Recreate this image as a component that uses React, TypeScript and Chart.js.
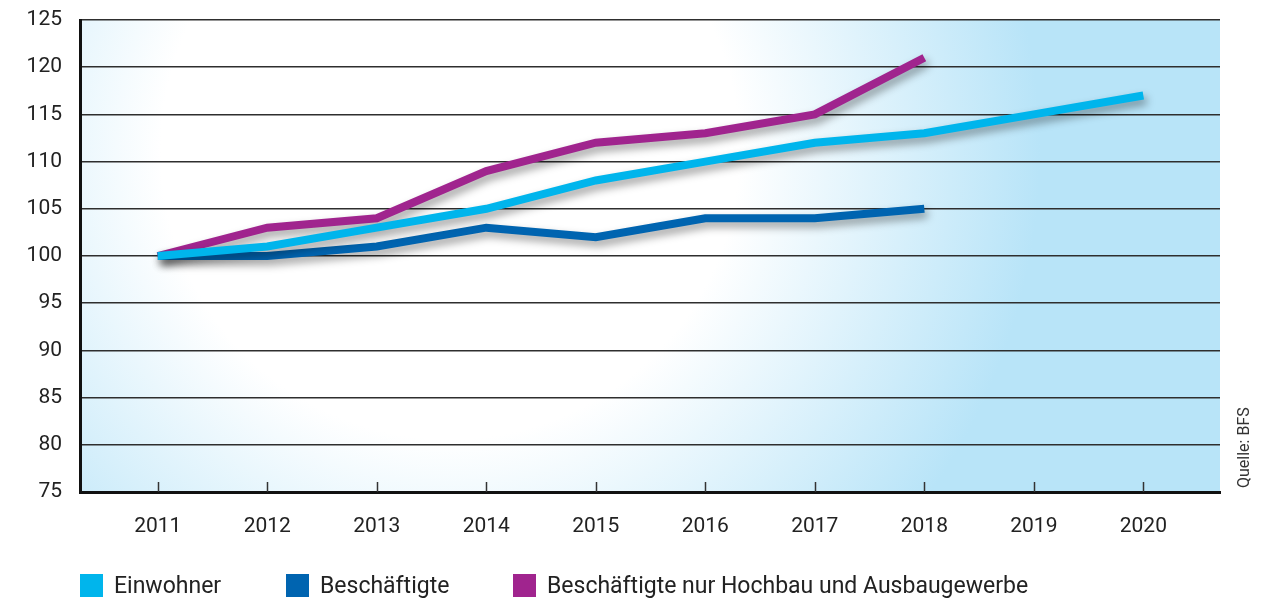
import React, { useEffect, useRef } from "react";
import { Chart, registerables } from "chart.js";

Chart.register(...registerables);

const years = [2011, 2012, 2013, 2014, 2015, 2016, 2017, 2018, 2019, 2020];
const einwohner = [100, 101, 103, 105, 108, 110, 112, 113, 115, 117];
const beschaeftigte = [100, 100, 101, 103, 102, 104, 104, 105];
const hochbau = [100, 103, 104, 109, 112, 113, 115, 121];
const yTicks = [75, 80, 85, 90, 95, 100, 105, 110, 115, 120, 125];
const seriesLabels = ["Einwohner", "Beschäftigte", "Beschäftigte nur Hochbau und Ausbaugewerbe"];
const seriesColors = ["#00b5ec", "#0064b0", "#a0248e"];
const sourceText = "Quelle: BFS";

const FONT = "Roboto, 'DejaVu Sans', sans-serif";

const toPoints = (vals: number[]) => vals.map((v, i) => ({ x: years[i], y: v }));

const bgPlugin = {
  id: "bgGradient",
  beforeDraw(chart: any) {
    const { ctx, chartArea } = chart;
    if (!chartArea) return;
    const { left, top, right, bottom } = chartArea;
    ctx.save();
    const cx = 450;
    const cy = 150;
    const R = 590;
    const g = ctx.createRadialGradient(cx, cy, 0, cx, cy, R);
    g.addColorStop(0, "#ffffff");
    g.addColorStop(0.49, "#ffffff");
    g.addColorStop(1, "#b8e4f8");
    ctx.fillStyle = g;
    ctx.fillRect(left, top, right - left, bottom - top);
    ctx.restore();
  },
};

const shadowPlugin = {
  id: "lineShadow",
  beforeDatasetDraw(chart: any) {
    const ctx = chart.ctx;
    ctx.save();
    ctx.shadowColor = "rgba(0,0,0,0.38)";
    ctx.shadowBlur = 8;
    ctx.shadowOffsetX = 3;
    ctx.shadowOffsetY = 5;
  },
  afterDatasetDraw(chart: any) {
    chart.ctx.restore();
  },
};

const decoPlugin = {
  id: "deco",
  afterDraw(chart: any) {
    const { ctx, chartArea, scales } = chart;
    const xs = scales.x;
    ctx.save();
    // inner tick marks on x axis
    ctx.strokeStyle = "#333";
    ctx.lineWidth = 1.5;
    years.forEach((yr) => {
      const px = Math.round(xs.getPixelForValue(yr)) + 0.5;
      ctx.beginPath();
      ctx.moveTo(px, chartArea.bottom);
      ctx.lineTo(px, chartArea.bottom - 10);
      ctx.stroke();
    });
    // legend
    const legendX = [80, 286, 513];
    const ly = 574;
    ctx.font = `23px ${FONT}`;
    ctx.textBaseline = "middle";
    ctx.textAlign = "left";
    seriesLabels.forEach((lab, i) => {
      ctx.fillStyle = seriesColors[i];
      ctx.fillRect(legendX[i], ly, 23, 23);
      ctx.fillStyle = "#222";
      ctx.fillText(lab, legendX[i] + 34, ly + 13);
    });
    // source
    ctx.translate(1245, chartArea.bottom - 4);
    ctx.rotate(-Math.PI / 2);
    ctx.font = `16px ${FONT}`;
    ctx.fillStyle = "#333";
    ctx.textAlign = "left";
    ctx.textBaseline = "middle";
    ctx.fillText(sourceText, 0, 0);
    ctx.restore();
  },
};

export default function App() {
  const ref = useRef<HTMLCanvasElement | null>(null);
  useEffect(() => {
    document.body.style.margin = "0";
    if (!ref.current) return;
    const common = {
      fill: false,
      borderWidth: 8,
      pointRadius: 0,
      pointHoverRadius: 0,
      tension: 0,
      borderCapStyle: "butt" as const,
      borderJoinStyle: "miter" as const,
    };
    const chart = new Chart(ref.current, {
      type: "line",
      data: {
        datasets: [
          { ...common, label: seriesLabels[0], data: toPoints(einwohner), borderColor: seriesColors[0], backgroundColor: seriesColors[0] },
          { ...common, label: seriesLabels[1], data: toPoints(beschaeftigte), borderColor: seriesColors[1], backgroundColor: seriesColors[1] },
          { ...common, label: seriesLabels[2], data: toPoints(hochbau), borderColor: seriesColors[2], backgroundColor: seriesColors[2] },
        ],
      },
      options: {
        responsive: false,
        animation: false,
        events: [],
        layout: { padding: { left: 0, right: 52, top: 20, bottom: 0 } },
        plugins: { legend: { display: false }, tooltip: { enabled: false } },
        scales: {
          x: {
            type: "linear",
            min: 2010.29,
            max: 2020.7,
            afterBuildTicks: (s: any) => {
              s.ticks = years.map((v) => ({ value: v }));
            },
            afterFit: (s: any) => {
              s.height = 109;
              s.paddingLeft = 0;
              s.paddingRight = 0;
            },
            grid: { display: false, drawTicks: false },
            border: { display: true, color: "#111", width: 3 },
            ticks: {
              padding: 22,
              color: "#222",
              font: { family: FONT, size: 21 },
              callback: (v: any) => String(v),
              maxRotation: 0,
              autoSkip: false,
            },
          },
          y: {
            min: 75,
            max: 125,
            afterBuildTicks: (s: any) => {
              s.ticks = yTicks.map((v) => ({ value: v }));
            },
            afterFit: (s: any) => {
              s.width = 80;
              s.paddingTop = 0;
              s.paddingBottom = 0;
            },
            grid: { color: "#2e2e2e", lineWidth: 1.5, drawTicks: false },
            border: { display: true, color: "#111", width: 3 },
            ticks: {
              padding: 18,
              color: "#222",
              font: { family: FONT, size: 21 },
              callback: (v: any) => String(v),
            },
          },
        },
      },
      plugins: [bgPlugin, shadowPlugin, decoPlugin],
    });
    return () => chart.destroy();
  }, []);
  return (
    <div style={{ width: 1272, height: 601 }}>
      <canvas ref={ref} width={1272} height={601} style={{ display: "block" }} />
    </div>
  );
}
